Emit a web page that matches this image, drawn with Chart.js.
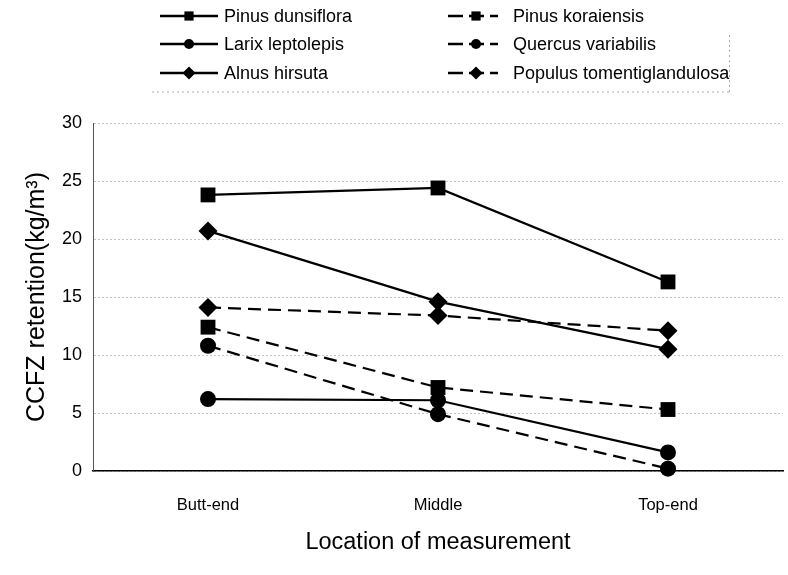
<!DOCTYPE html>
<html>
<head>
<meta charset="utf-8">
<script src="https://cdn.jsdelivr.net/npm/chart.js@4.4.0/dist/chart.umd.min.js"></script>
<style>
    html, body { margin: 0; padding: 0; background: #fff; }
    canvas { display: block; }
</style>
</head>
<body>
<canvas id="ccfz-chart" width="788" height="575"></canvas>
<script>
// values (kg/m3)
var locations = ['Butt-end', 'Middle', 'Top-end'];
var pinusDensiflora = [23.8, 24.4, 16.3];
var larixLeptolepis = [6.2, 6.1, 1.6];
var alnusHirsuta = [20.7, 14.6, 10.5];
var pinusKoraiensis = [12.4, 7.2, 5.3];
var quercusVariabilis = [10.8, 4.9, 0.2];
var populusTomentiglandulosa = [14.1, 13.4, 12.1];
var yMin = 0, yMax = 30, yStep = 5;

var font = '"Liberation Sans", Arial, sans-serif';

function series(label, data, style, dashed) {
    var r = style === 'rect' ? 10.5 : (style === 'circle' ? 8 : 9.5);
    return {
        label: label,
        data: data,
        borderColor: '#000',
        backgroundColor: '#000',
        borderWidth: 2.2,
        borderDash: dashed ? [13, 7] : [],
        pointStyle: style,
        pointRadius: r,
        pointHoverRadius: r,
        pointBackgroundColor: '#000',
        pointBorderColor: '#000',
        pointBorderWidth: 0,
        tension: 0,
        clip: false,
        legendCol: dashed ? 1 : 0
    };
}

// two-column legend drawn above the plot: solid series left, dashed right
var legendPlugin = {
    id: 'ccfzLegend',
    afterDraw: function(chart) {
        var ctx = chart.ctx;
        var rows = [16, 44, 73];
        var cols = [
            { x0: 160, x1: 218, mark: 189, text: 224 },
            { x0: 448, x1: 498, mark: 476, text: 513 }
        ];
        var count = [0, 0];
        ctx.save();
        chart.data.datasets.forEach(function(ds) {
            var c = cols[ds.legendCol];
            var y = rows[count[ds.legendCol]++];
            ctx.strokeStyle = '#000';
            ctx.lineWidth = 2.5;
            ctx.setLineDash(ds.legendCol ? [15, 6] : []);
            ctx.beginPath();
            ctx.moveTo(c.x0, y);
            ctx.lineTo(c.x1, y);
            ctx.stroke();
            ctx.setLineDash([]);
            ctx.fillStyle = '#000';
            var r = ds.pointStyle === 'rect' ? 6.5 : (ds.pointStyle === 'circle' ? 5 : 6.5);
            Chart.helpers.drawPoint(ctx, { pointStyle: ds.pointStyle, radius: r, borderWidth: 0, rotation: 0 }, c.mark, y);
            ctx.font = '18px ' + font;
            ctx.textBaseline = 'middle';
            ctx.fillText(ds.label, c.text, y + 1);
        });
        // faint frame remnants of the legend box
        ctx.strokeStyle = '#aaa';
        ctx.lineWidth = 1;
        ctx.setLineDash([2, 3]);
        ctx.beginPath();
        ctx.moveTo(152, 92);
        ctx.lineTo(729, 92);
        ctx.moveTo(729.5, 35);
        ctx.lineTo(729.5, 95);
        ctx.stroke();
        ctx.restore();
    }
};

var ctx = document.getElementById('ccfz-chart').getContext('2d');
var ccfzChart = new Chart(ctx, {
    type: 'line',
    data: {
        labels: locations,
        datasets: [
            series('Pinus dunsiflora', pinusDensiflora, 'rect', false),
            series('Larix leptolepis', larixLeptolepis, 'circle', false),
            series('Alnus hirsuta', alnusHirsuta, 'rectRot', false),
            series('Pinus koraiensis', pinusKoraiensis, 'rect', true),
            series('Quercus variabilis', quercusVariabilis, 'circle', true),
            series('Populus tomentiglandulosa', populusTomentiglandulosa, 'rectRot', true)
        ]
    },
    options: {
        responsive: false,
        animation: false,
        devicePixelRatio: 1,
        layout: { autoPadding: false, padding: { left: 22, right: 5, top: 123, bottom: 10 } },
        plugins: {
            legend: { display: false },
            tooltip: { enabled: false }
        },
        scales: {
            x: {
                offset: true,
                grid: { display: false, drawTicks: false },
                border: { display: true, color: '#000', width: 1.5 },
                ticks: { color: '#000', padding: 25, font: { family: font, size: 16.5 } },
                title: {
                    display: true,
                    text: 'Location of measurement',
                    color: '#000',
                    font: { family: font, size: 23.5 },
                    padding: { top: 0, bottom: 8 }
                },
                afterFit: function(scale) { scale.height = 575 - 10 - 471; }
            },
            y: {
                min: yMin,
                max: yMax,
                ticks: { stepSize: yStep, color: '#000', padding: 11, font: { family: font, size: 18 } },
                grid: { color: '#c4c4c4', lineWidth: 1, drawTicks: false },
                border: { display: true, color: '#555', width: 1, dash: [2, 2] },
                title: {
                    display: true,
                    text: 'CCFZ retention(kg/m³)',
                    color: '#000',
                    font: { family: font, size: 25 },
                    padding: { top: 0, bottom: 0 }
                },
                afterFit: function(scale) { scale.width = 93 - 22; }
            }
        }
    },
    plugins: [legendPlugin]
});

// dotted horizontal grid
ccfzChart.options.scales.y.grid.borderDash = [2, 3];
ccfzChart.update();
</script>
</body>
</html>
